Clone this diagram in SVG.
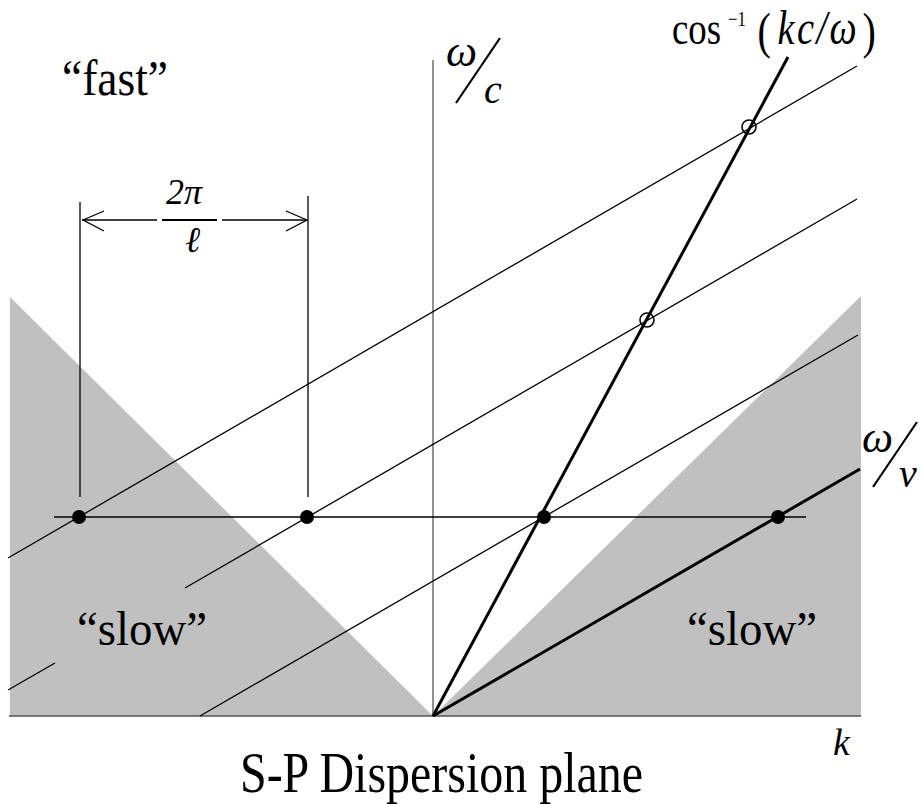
<svg xmlns="http://www.w3.org/2000/svg" width="922" height="804" viewBox="0 0 922 804">
<style>
.thin{stroke:#000;stroke-width:1.3;fill:none}
.thick{stroke:#000;stroke-width:3;fill:none}
.axis{stroke:#555;stroke-width:1.3;fill:none}
.t{font-family:"Liberation Serif","Times New Roman",serif;fill:#000}
.i{font-family:"Liberation Serif","Times New Roman",serif;font-style:italic;fill:#000}
.dot{fill:#000}
.open{fill:none;stroke:#000;stroke-width:1.6}
</style>
<rect width="922" height="804" fill="#fff"/>
<g id="regions">
<polygon points="10,297 433,716 10,716" fill="#c0c0c0"/>
<polygon points="433,716 861,296 861,716" fill="#c0c0c0"/>
</g>
<g id="axes">
<line class="axis" x1="9" y1="716" x2="861" y2="716"/>
<line class="axis" x1="433" y1="60" x2="433" y2="716"/>
</g>
<g id="connectors">
<line class="thin" x1="8" y1="558" x2="857" y2="66"/>
<line class="thin" x1="8" y1="690" x2="55" y2="663"/>
<line class="thin" x1="185" y1="588" x2="857" y2="199"/>
<line class="thin" x1="200" y1="716" x2="858" y2="335"/>
<line class="thin" x1="54" y1="517" x2="806" y2="517"/>
<line class="thick" x1="433" y1="716" x2="860" y2="469"/>
<line class="thick" x1="433" y1="716" x2="788" y2="57"/>
<line class="thin" x1="80" y1="202" x2="80" y2="497"/>
<line class="thin" x1="308" y1="196" x2="308" y2="497"/>
<line class="thin" x1="82" y1="220" x2="157" y2="220"/>
<line class="thin" x1="222" y1="220" x2="306" y2="220"/>
<polyline class="thin" points="104,211 83,220 104,231"/>
<polyline class="thin" points="286,211 307,220 286,231"/>
<line x1="162" y1="220" x2="217" y2="220" stroke="#000" stroke-width="2"/>
</g>
<g id="points">
<circle class="dot" cx="79" cy="517" r="7"/>
<circle class="dot" cx="307" cy="517" r="7"/>
<circle class="dot" cx="544" cy="517" r="7"/>
<circle class="dot" cx="778" cy="517" r="7"/>
<circle class="open" cx="749" cy="127" r="7"/>
<circle class="open" cx="647" cy="320" r="7"/>
</g>
<g id="labels">
<text class="t" x="62" y="95" font-size="50" textLength="106" lengthAdjust="spacingAndGlyphs">“fast”</text>
<text class="t" x="77" y="645" font-size="48" textLength="130" lengthAdjust="spacingAndGlyphs">“slow”</text>
<text class="t" x="687" y="645" font-size="48" textLength="130" lengthAdjust="spacingAndGlyphs">“slow”</text>
<text class="t" x="240" y="792" font-size="58" textLength="403" lengthAdjust="spacingAndGlyphs">S-P Dispersion plane</text>
<text class="i" x="166" y="204" font-size="36">2π</text>
<text class="i" x="185" y="252" font-size="36">ℓ</text>
<text class="i" x="833" y="755" font-size="38">k</text>
<text class="i" x="446" y="66" font-size="44">ω</text>
<line x1="500" y1="38" x2="456" y2="103" stroke="#000" stroke-width="2.2"/>
<text class="i" x="484" y="103" font-size="40">c</text>
<text class="i" x="862" y="452" font-size="44">ω</text>
<line x1="917" y1="422" x2="873" y2="487" stroke="#000" stroke-width="2.2"/>
<text class="i" x="899" y="487" font-size="40">v</text>
<text class="t" transform="translate(672,44) scale(0.8,1)" font-size="46"><tspan x="0" y="0">cos</tspan><tspan x="70" y="-18" font-size="21">−1</tspan><tspan x="107" y="4" font-size="50">(</tspan><tspan x="132" y="0" font-style="italic" font-size="48" letter-spacing="3">kc/ω</tspan><tspan x="238" y="4" font-size="50">)</tspan></text>
</g>
</svg>
